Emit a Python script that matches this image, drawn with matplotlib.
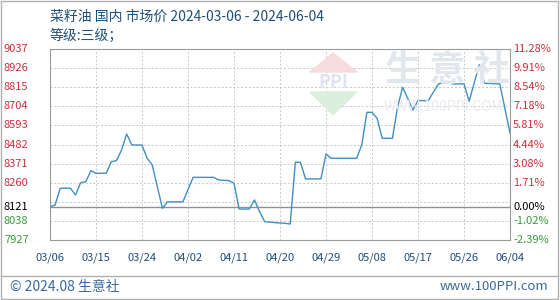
import matplotlib
matplotlib.use('Agg')
import matplotlib.pyplot as plt
import matplotlib.dates as mdates
from matplotlib.transforms import blended_transform_factory
import pandas as pd

plt.rcParams['font.family'] = ['Noto Sans CJK SC', 'DejaVu Sans']

##data

dates = ['2024-03-06', '2024-03-07', '2024-03-08', '2024-03-10', '2024-03-11', '2024-03-12',
         '2024-03-13', '2024-03-14', '2024-03-15', '2024-03-17', '2024-03-18', '2024-03-19',
         '2024-03-20', '2024-03-21', '2024-03-22', '2024-03-24', '2024-03-25', '2024-03-26',
         '2024-03-28', '2024-03-29', '2024-04-01', '2024-04-03', '2024-04-07', '2024-04-08',
         '2024-04-10', '2024-04-11', '2024-04-12', '2024-04-14', '2024-04-15', '2024-04-16',
         '2024-04-17', '2024-04-19', '2024-04-21', '2024-04-22', '2024-04-23', '2024-04-24',
         '2024-04-25', '2024-04-28', '2024-04-29', '2024-04-30', '2024-05-05', '2024-05-06',
         '2024-05-07', '2024-05-08', '2024-05-09', '2024-05-10', '2024-05-12', '2024-05-13',
         '2024-05-14', '2024-05-16', '2024-05-17', '2024-05-19', '2024-05-21', '2024-05-22',
         '2024-05-24', '2024-05-26', '2024-05-27', '2024-05-29', '2024-05-30', '2024-06-02',
         '2024-06-04']
prices = [8121, 8130, 8228, 8228, 8189, 8260,
          8266, 8330, 8315, 8315, 8382, 8388,
          8450, 8543, 8479, 8479, 8402, 8363,
          8111, 8149, 8149, 8291, 8291, 8276,
          8272, 8257, 8107, 8107, 8160, 8092,
          8034, 8028, 8024, 8020, 8379, 8379,
          8282, 8282, 8427, 8402, 8402, 8480,
          8669, 8669, 8634, 8518, 8518, 8700,
          8815, 8683, 8737, 8737, 8834, 8843,
          8834, 8834, 8733, 8946, 8838, 8834,
          8549]

base = 8121
grid_vals = [9037, 8926, 8815, 8704, 8593, 8482, 8371, 8260, 8149, 8038, 7927]
label_vals = [9037, 8926, 8815, 8704, 8593, 8482, 8371, 8260, 8121, 8038, 7927]
pct_labels = ['11.28%', '9.91%', '8.54%', '7.18%', '5.81%', '4.44%', '3.08%', '1.71%',
              '0.00%', '-1.02%', '-2.39%']
xtick_dates = ['2024-03-06', '2024-03-15', '2024-03-24', '2024-04-02', '2024-04-11', '2024-04-20',
               '2024-04-29', '2024-05-08', '2024-05-17', '2024-05-26', '2024-06-04']

title = '菜籽油 国内 市场价 2024-03-06 - 2024-06-04'
subtitle = '等级:三级；'

Df = pd.DataFrame({'date': pd.to_datetime(dates), 'price': prices})

##figure

fig = plt.figure(figsize=(5.6, 3), dpi=100)
ax = fig.add_axes([50/560, 60/300, 460/560, 191/300])

# outer frame and footer line
fig.patches.append(plt.Rectangle((0.002, 0.004), 0.994, 0.992, transform=fig.transFigure,
                                 fill=False, edgecolor='#b0b0b0', linewidth=1))
fig.lines.append(plt.Line2D([0.002, 0.996], [24/300, 24/300], transform=fig.transFigure,
                            color='#b0b0b0', linewidth=1))

# faint logo watermark
W, H = 560, 300
fig.patches.append(plt.Polygon([(310/W, 1-72/H), (333/W, 1-53/H), (357/W, 1-72/H)],
                               transform=fig.transFigure, color='#f6dcdc', zorder=0))
fig.patches.append(plt.Polygon([(310/W, 1-92/H), (333/W, 1-115/H), (357/W, 1-92/H)],
                               transform=fig.transFigure, color='#dcefdc', zorder=0))
fig.text(333/W, 1-82/H, 'PPI', fontsize=13, fontweight='bold', color='#dfe5ef',
         ha='center', va='center', zorder=0)
fig.text(447/W, 1-70/H, '生 意 社', fontsize=26, color='#e2e7ee', ha='center', va='center',
         zorder=0, fontweight='bold')
fig.text(443/W, 1-107/H, 'WWW.100PPI.COM', fontsize=10, color='#e8ebf0', ha='center',
         va='center', zorder=0)

text_col = '#1f4e79'
ax.set_facecolor('none')
ax.plot(Df['date'], Df['price'], color='#3f8fc0', linewidth=1, zorder=3)

ax.set_xlim(pd.Timestamp('2024-03-06'), pd.Timestamp('2024-06-04'))
ax.set_ylim(7927, 9037)

for v in grid_vals:
    ax.axhline(v, color='#c8c8c8', linestyle=(0, (2, 2)), linewidth=0.7, zorder=1)
for d in xtick_dates:
    ax.axvline(pd.Timestamp(d), color='#c8c8c8', linestyle=(0, (2, 2)), linewidth=0.7, zorder=1)
ax.axhline(base, color='#909090', linewidth=1, zorder=2)

ax.set_yticks([])
ax.set_xticks(pd.to_datetime(xtick_dates))
ax.xaxis.set_major_formatter(mdates.DateFormatter('%m/%d'))
ax.tick_params(axis='x', length=0, pad=9, labelsize=8, labelcolor=text_col)
for s in ax.spines.values():
    s.set_color('#9a9a9a')

# left price labels and right percent labels
trans = blended_transform_factory(fig.transFigure, ax.transData)
for v, p in zip(label_vals, pct_labels):
    if v > base:
        c = '#cc2e3c'
    elif v < base:
        c = '#3a9a3a'
    else:
        c = '#000000'
    ax.text(4/560, v, str(v), transform=trans, ha='left', va='center', fontsize=8, color=c)
    ax.text(513/560, v, p, transform=trans, ha='left', va='center', fontsize=8, color=c)

fig.text(50/560, 1 - 17/300, title, fontsize=10, color=text_col, ha='left', va='center')
fig.text(50/560, 1 - 36/300, subtitle, fontsize=10, color=text_col, ha='left', va='center')
fig.text(10/560, 1 - 287/300, '© 2024.08 生意社', fontsize=10, color='#3a6a9a', ha='left', va='center')
fig.text(548/560, 1 - 287/300, 'www.100PPI.com', fontsize=9.5, color='#3a6a9a', ha='right', va='center')

fig.savefig('out.png', dpi=100)
